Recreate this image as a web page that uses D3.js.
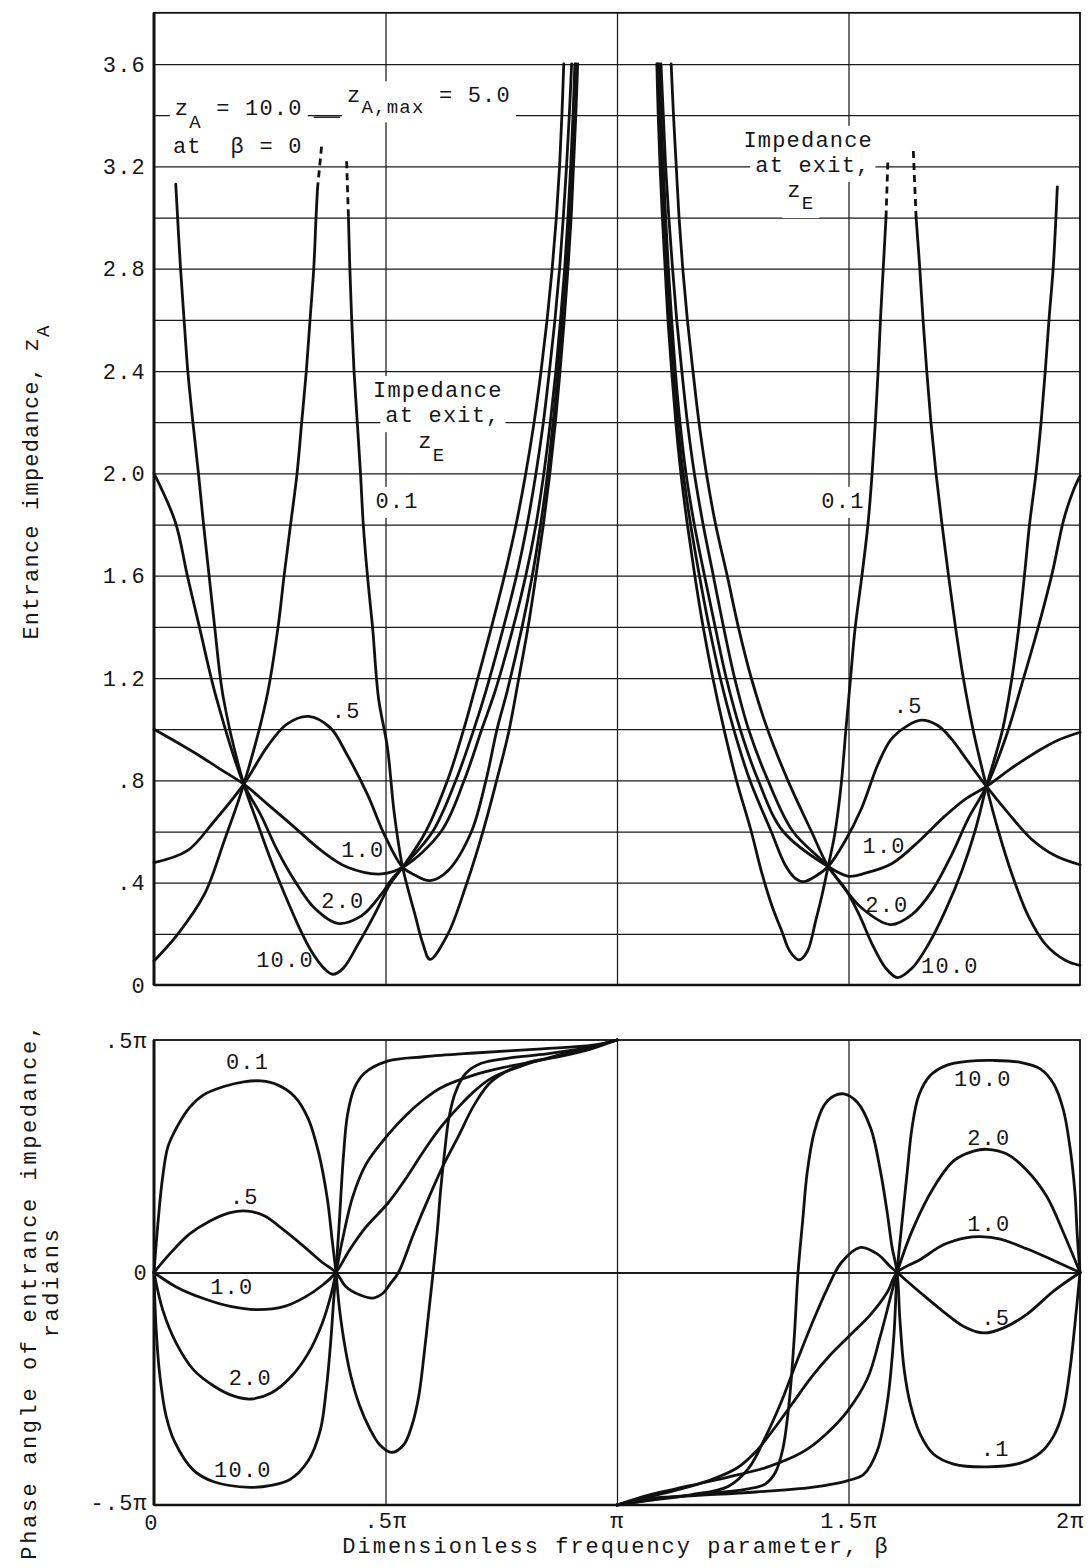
<!DOCTYPE html>
<html>
<head>
<meta charset="utf-8">
<script src="https://cdn.jsdelivr.net/npm/d3@7"></script>
<style>
  body { margin: 0; background: #fff; }
  svg text { font-family: "Liberation Mono", "DejaVu Sans Mono", monospace; font-size: 22px; fill: #161616; letter-spacing: 1.2px; white-space: pre; }
</style>
</head>
<body>
<div id="target"></div>
<script>
// beta is in units of pi, z_A in impedance units, phase in units of pi

const betaTicks = [0, 0.5, 1, 1.5, 2]
const betaLabels = ["0", ".5π", "π", "1.5π", "2π"]
const betaGrid = [0.5, 1, 1.5]
const zTicks = [0, 0.4, 0.8, 1.2, 1.6, 2.0, 2.4, 2.8, 3.2, 3.6]
const zTickLabels = ["0", ".4", ".8", "1.2", "1.6", "2.0", "2.4", "2.8", "3.2", "3.6"]
const zTop = 3.8
const phaseTicks = [-0.5, 0, 0.5]
const phaseLabels = ["-.5π", "0", ".5π"]

// entrance impedance, one array per exit impedance z_E and half period
const zA01La = [[0,0.094],[0.051,0.198],[0.109,0.355],[0.152,0.565],[0.194,0.785],[0.243,1.12],[0.268,1.40],[0.281,1.60],[0.295,1.80],[0.309,2.0],[0.319,2.2],[0.329,2.4],[0.337,2.6],[0.345,2.80],[0.350,3.0],[0.353,3.11]]
const zA01Lb = [[0.420,3.0],[0.423,2.80],[0.427,2.6],[0.432,2.40],[0.439,2.20],[0.446,2.0],[0.452,1.80],[0.461,1.60],[0.472,1.40],[0.485,1.12],[0.504,0.93],[0.519,0.67],[0.537,0.46],[0.563,0.28],[0.581,0.16],[0.596,0.10],[0.635,0.2],[0.675,0.395],[0.710,0.597],[0.738,0.785],[0.766,0.988],[0.787,1.19],[0.808,1.40],[0.825,1.60],[0.841,1.80],[0.855,2.0],[0.867,2.2],[0.877,2.4],[0.886,2.6],[0.894,2.8],[0.901,3.0],[0.906,3.2],[0.911,3.4],[0.915,3.6]]
const zA01Ra = [[1.086,3.6],[1.089,3.4],[1.093,3.2],[1.098,3.0],[1.104,2.8],[1.110,2.6],[1.118,2.4],[1.127,2.2],[1.138,2.0],[1.152,1.8],[1.168,1.6],[1.186,1.4],[1.207,1.2],[1.231,1.0],[1.258,0.8],[1.290,0.6],[1.312,0.443],[1.334,0.313],[1.356,0.21],[1.374,0.13],[1.393,0.098],[1.411,0.131],[1.429,0.25],[1.443,0.353],[1.456,0.463],[1.470,0.586],[1.484,0.78],[1.494,0.99],[1.504,1.19],[1.514,1.39],[1.529,1.6],[1.542,1.8],[1.551,2.0],[1.558,2.2],[1.564,2.4],[1.569,2.6],[1.575,2.8],[1.581,3.0]]
const zA01Rb = [[1.646,3.0],[1.654,2.8],[1.661,2.6],[1.669,2.4],[1.678,2.2],[1.689,2.0],[1.702,1.8],[1.716,1.6],[1.731,1.4],[1.748,1.2],[1.770,0.99],[1.798,0.776],[1.824,0.60],[1.853,0.433],[1.889,0.267],[1.925,0.16],[1.969,0.096],[2.0,0.077]]
const zA01Dash = [[[0.353,3.11],[0.362,3.28]], [[0.416,3.22],[0.420,3.0]], [[1.581,3.0],[1.585,3.22]], [[1.640,3.26],[1.646,3.0]]]

const zA05L = [[0,0.478],[0.072,0.525],[0.130,0.64],[0.194,0.785],[0.244,0.93],[0.287,1.02],[0.334,1.05],[0.381,1.005],[0.417,0.90],[0.461,0.745],[0.497,0.59],[0.537,0.46],[0.563,0.43],[0.596,0.408],[0.635,0.447],[0.685,0.597],[0.717,0.80],[0.741,1.0],[0.763,1.15],[0.795,1.4],[0.817,1.6],[0.835,1.8],[0.850,2.0],[0.862,2.2],[0.873,2.4],[0.882,2.6],[0.890,2.8],[0.897,3.0],[0.903,3.2],[0.908,3.4],[0.911,3.6]]
const zA05R = [[1.088,3.6],[1.092,3.4],[1.096,3.2],[1.101,3.0],[1.107,2.8],[1.114,2.6],[1.122,2.4],[1.131,2.2],[1.143,2.0],[1.159,1.8],[1.178,1.6],[1.199,1.4],[1.223,1.2],[1.252,1.0],[1.287,0.8],[1.333,0.6],[1.363,0.47],[1.385,0.417],[1.403,0.404],[1.428,0.424],[1.456,0.463],[1.492,0.561],[1.528,0.69],[1.563,0.86],[1.592,0.96],[1.627,1.013],[1.657,1.035],[1.692,1.015],[1.721,0.965],[1.758,0.874],[1.798,0.776],[1.845,0.672],[1.896,0.569],[1.947,0.505],[2.0,0.47]]

const zA10L = [[0,1.0],[0.086,0.91],[0.143,0.844],[0.194,0.785],[0.245,0.707],[0.303,0.617],[0.361,0.526],[0.418,0.46],[0.491,0.434],[0.537,0.46],[0.620,0.6],[0.670,0.8],[0.708,1.0],[0.737,1.15],[0.776,1.4],[0.803,1.6],[0.825,1.8],[0.842,2.0],[0.856,2.2],[0.868,2.4],[0.878,2.6],[0.887,2.8],[0.894,3.0],[0.900,3.2],[0.905,3.4],[0.909,3.6]]
const zA10R = [[1.091,3.6],[1.095,3.4],[1.100,3.2],[1.105,3.0],[1.111,2.8],[1.118,2.6],[1.126,2.4],[1.136,2.2],[1.149,2.0],[1.167,1.8],[1.189,1.6],[1.212,1.4],[1.236,1.2],[1.266,1.0],[1.305,0.8],[1.359,0.6],[1.456,0.463],[1.500,0.425],[1.536,0.437],[1.594,0.475],[1.651,0.56],[1.708,0.66],[1.751,0.725],[1.798,0.776],[1.850,0.845],[1.905,0.91],[1.950,0.955],[2.0,0.988]]

const zA20L = [[0,2.0],[0.046,1.81],[0.072,1.60],[0.098,1.40],[0.135,1.12],[0.194,0.785],[0.230,0.667],[0.267,0.524],[0.304,0.407],[0.347,0.30],[0.397,0.241],[0.448,0.27],[0.491,0.355],[0.512,0.41],[0.537,0.46],[0.602,0.6],[0.652,0.8],[0.691,1.0],[0.717,1.15],[0.755,1.4],[0.783,1.6],[0.806,1.8],[0.825,2.0],[0.841,2.2],[0.854,2.4],[0.866,2.6],[0.876,2.8],[0.884,3.0],[0.891,3.2],[0.897,3.4],[0.902,3.6]]
const zA20R = [[1.095,3.6],[1.100,3.4],[1.105,3.2],[1.112,3.0],[1.120,2.8],[1.129,2.6],[1.140,2.4],[1.152,2.2],[1.167,2.0],[1.186,1.8],[1.208,1.6],[1.230,1.4],[1.254,1.2],[1.284,1.0],[1.326,0.8],[1.380,0.6],[1.456,0.463],[1.486,0.39],[1.529,0.30],[1.591,0.236],[1.637,0.275],[1.680,0.367],[1.723,0.51],[1.760,0.655],[1.798,0.776],[1.842,0.98],[1.875,1.18],[1.910,1.40],[1.940,1.61],[1.965,1.82],[1.985,1.93],[2.0,1.99]]

const zA100L = [[0.047,3.13],[0.057,2.81],[0.065,2.60],[0.073,2.40],[0.084,2.20],[0.096,2.0],[0.107,1.80],[0.119,1.6],[0.131,1.40],[0.150,1.12],[0.194,0.785],[0.224,0.63],[0.253,0.486],[0.282,0.356],[0.310,0.239],[0.339,0.135],[0.368,0.064],[0.386,0.042],[0.408,0.064],[0.441,0.16],[0.477,0.278],[0.510,0.395],[0.537,0.46],[0.587,0.6],[0.634,0.8],[0.669,1.0],[0.692,1.15],[0.729,1.4],[0.757,1.6],[0.782,1.8],[0.803,2.0],[0.821,2.2],[0.836,2.4],[0.849,2.6],[0.860,2.8],[0.869,3.0],[0.876,3.2],[0.881,3.4],[0.885,3.6]]
const zA100R = [[1.117,3.6],[1.122,3.4],[1.128,3.2],[1.134,3.0],[1.142,2.8],[1.152,2.6],[1.164,2.4],[1.177,2.2],[1.193,2.0],[1.213,1.8],[1.238,1.6],[1.262,1.4],[1.290,1.2],[1.325,1.0],[1.369,0.8],[1.420,0.6],[1.456,0.463],[1.494,0.373],[1.523,0.275],[1.551,0.16],[1.580,0.067],[1.606,0.029],[1.638,0.067],[1.673,0.16],[1.709,0.29],[1.745,0.447],[1.773,0.60],[1.798,0.776],[1.833,1.0],[1.853,1.2],[1.868,1.4],[1.880,1.6],[1.891,1.8],[1.905,2.0],[1.916,2.2],[1.925,2.4],[1.933,2.6],[1.942,2.8],[1.948,3.0],[1.951,3.12]]

// phase angle of entrance impedance
const ph01L = [[0,0],[0.008,0.10],[0.018,0.2],[0.030,0.27],[0.048,0.31],[0.077,0.355],[0.107,0.382],[0.151,0.400],[0.194,0.410],[0.231,0.412],[0.268,0.403],[0.304,0.378],[0.333,0.331],[0.355,0.260],[0.374,0.161],[0.385,0.068],[0.393,0],[0.400,-0.073],[0.411,-0.151],[0.425,-0.222],[0.444,-0.286],[0.466,-0.336],[0.488,-0.371],[0.513,-0.387],[0.539,-0.371],[0.557,-0.329],[0.572,-0.265],[0.583,-0.179],[0.594,-0.080],[0.603,0.002],[0.612,0.091],[0.619,0.176],[0.628,0.262],[0.637,0.333],[0.652,0.390],[0.674,0.429],[0.707,0.450],[0.765,0.461],[0.838,0.469],[0.926,0.482],[1,0.5]]
const ph01R = [[1.0,-0.5],[1.1,-0.485],[1.2,-0.475],[1.28,-0.466],[1.32,-0.455],[1.342,-0.43],[1.358,-0.38],[1.372,-0.278],[1.383,-0.137],[1.391,0],[1.401,0.111],[1.411,0.217],[1.426,0.302],[1.447,0.359],[1.469,0.380],[1.490,0.384],[1.519,0.366],[1.548,0.310],[1.569,0.218],[1.584,0.126],[1.594,0.055],[1.605,0],[1.611,-0.101],[1.620,-0.207],[1.634,-0.285],[1.655,-0.348],[1.684,-0.391],[1.727,-0.412],[1.799,-0.418],[1.871,-0.410],[1.914,-0.388],[1.943,-0.352],[1.964,-0.296],[1.978,-0.211],[1.989,-0.112],[2.0,0]]
const ph05L = [[0,0],[0.034,0.040],[0.077,0.083],[0.121,0.111],[0.165,0.129],[0.202,0.132],[0.238,0.122],[0.282,0.090],[0.326,0.054],[0.363,0.022],[0.393,0],[0.414,-0.030],[0.444,-0.048],[0.473,-0.055],[0.495,-0.044],[0.509,-0.026],[0.528,0],[0.561,0.084],[0.597,0.169],[0.626,0.233],[0.656,0.290],[0.692,0.361],[0.729,0.411],[0.802,0.450],[0.875,0.464],[0.948,0.482],[1,0.5]]
const ph05R = [[1.0,-0.5],[1.07,-0.49],[1.16,-0.478],[1.24,-0.46],[1.285,-0.42],[1.32,-0.355],[1.354,-0.28],[1.385,-0.2],[1.419,-0.115],[1.454,-0.035],[1.485,0.022],[1.526,0.054],[1.562,0.040],[1.591,0.012],[1.605,0],[1.655,-0.043],[1.706,-0.085],[1.749,-0.116],[1.792,-0.130],[1.835,-0.119],[1.885,-0.090],[1.943,-0.040],[2.0,0]]
const ph10L = [[0,0],[0.048,-0.031],[0.107,-0.056],[0.165,-0.073],[0.224,-0.080],[0.282,-0.073],[0.326,-0.053],[0.363,-0.028],[0.393,0],[0.422,0.048],[0.458,0.098],[0.506,0.150],[0.546,0.205],[0.583,0.262],[0.619,0.312],[0.656,0.354],[0.692,0.390],[0.729,0.418],[0.802,0.447],[0.875,0.468],[0.948,0.486],[1,0.5]]
const ph10R = [[1.0,-0.5],[1.05,-0.487],[1.12,-0.47],[1.2,-0.447],[1.26,-0.42],[1.30,-0.385],[1.34,-0.335],[1.38,-0.28],[1.42,-0.225],[1.46,-0.178],[1.50,-0.138],[1.548,-0.09],[1.584,-0.042],[1.605,0],[1.655,0.028],[1.706,0.060],[1.756,0.075],[1.785,0.077],[1.828,0.072],[1.885,0.051],[1.943,0.026],[2.0,0]]
const ph20L = [[0,0],[0.019,-0.081],[0.048,-0.152],[0.085,-0.209],[0.129,-0.244],[0.173,-0.266],[0.209,-0.272],[0.253,-0.259],[0.297,-0.223],[0.333,-0.174],[0.363,-0.110],[0.381,-0.053],[0.393,0],[0.407,0.070],[0.429,0.162],[0.458,0.233],[0.506,0.297],[0.546,0.340],[0.583,0.372],[0.619,0.397],[0.692,0.425],[0.765,0.443],[0.838,0.457],[0.926,0.479],[1,0.5]]
const ph20R = [[1.0,-0.5],[1.07,-0.478],[1.16,-0.458],[1.24,-0.44],[1.32,-0.42],[1.38,-0.397],[1.411,-0.38],[1.454,-0.345],[1.497,-0.299],[1.541,-0.228],[1.569,-0.136],[1.591,-0.052],[1.605,0],[1.641,0.098],[1.684,0.183],[1.727,0.240],[1.770,0.261],[1.799,0.265],[1.842,0.255],[1.885,0.220],[1.928,0.164],[1.964,0.086],[2.0,0]]
const ph100L = [[0,0],[0.004,-0.110],[0.012,-0.216],[0.026,-0.308],[0.045,-0.365],[0.085,-0.425],[0.129,-0.450],[0.207,-0.462],[0.253,-0.458],[0.294,-0.445],[0.333,-0.405],[0.359,-0.340],[0.372,-0.252],[0.382,-0.145],[0.388,-0.060],[0.393,0],[0.400,0.105],[0.409,0.248],[0.418,0.340],[0.433,0.397],[0.455,0.429],[0.506,0.455],[0.583,0.464],[0.692,0.472],[0.838,0.481],[0.948,0.489],[1,0.5]]
const ph100R = [[1.0,-0.5],[1.05,-0.488],[1.15,-0.481],[1.3,-0.472],[1.42,-0.462],[1.497,-0.448],[1.533,-0.434],[1.562,-0.384],[1.584,-0.278],[1.598,-0.136],[1.605,0],[1.616,0.112],[1.627,0.218],[1.637,0.310],[1.652,0.381],[1.677,0.424],[1.713,0.446],[1.756,0.454],[1.813,0.456],[1.871,0.452],[1.914,0.438],[1.943,0.406],[1.964,0.350],[1.978,0.272],[1.989,0.173],[1.994,0.081],[2.0,0]]

// curve labels (z_E values) placed in data units
const zCurveLabels = [
  {t: "0.1", b: 0.525, v: 1.865}, {t: ".5", b: 0.415, v: 1.043}, {t: "1.0", b: 0.451, v: 0.50},
  {t: "2.0", b: 0.408, v: 0.30}, {t: "10.0", b: 0.283, v: 0.07},
  {t: "0.1", b: 1.488, v: 1.865}, {t: ".5", b: 1.629, v: 1.062}, {t: "1.0", b: 1.577, v: 0.515},
  {t: "2.0", b: 1.583, v: 0.285}, {t: "10.0", b: 1.719, v: 0.047}
]
const phCurveLabels = [
  {t: "0.1", b: 0.202, p: 0.438}, {t: ".5", b: 0.195, p: 0.147}, {t: "1.0", b: 0.168, p: -0.046},
  {t: "2.0", b: 0.208, p: -0.241}, {t: "10.0", b: 0.192, p: -0.440},
  {t: "10.0", b: 1.790, p: 0.401}, {t: "2.0", b: 1.803, p: 0.274}, {t: "1.0", b: 1.803, p: 0.090},
  {t: ".5", b: 1.818, p: -0.112}, {t: ".1", b: 1.817, p: -0.395}
]

let impedanceChart = () => {
  let ob = {}

  ob.make = () => {
    ob.svg = d3.select("#target").append("svg").attr("width", 1090).attr("height", 1568)
    ob.x = d3.scaleLinear().domain([0, 2]).range([154, 1080])
    ob.yz = d3.scaleLinear().domain([0, 3.6]).range([985, 64])
    ob.yp = d3.scaleLinear().domain([-0.5, 0.5]).range([1505, 1040])
    ob.grid = ob.svg.append("g")
    ob.boxes = ob.svg.append("g")
    ob.curves = ob.svg.append("g")
    ob.frames = ob.svg.append("g")
    ob.texts = ob.svg.append("g")
    ob.drawGrid()
    ob.drawCurves()
    ob.drawFrames()
    ob.drawAxes()
    ob.drawLabels()
  }

  ob.drawGrid = () => {
    let w = ob.x(2) - ob.x(0)
    ob.grid.append("g").attr("transform", `translate(${ob.x(0)},0)`)
      .call(d3.axisLeft(ob.yz).tickValues(d3.range(0.2, 3.65, 0.2)).tickSize(-w).tickFormat(""))
    ob.grid.append("g").attr("transform", `translate(0,${ob.yz(0)})`)
      .call(d3.axisBottom(ob.x).tickValues(betaGrid).tickSize(-(ob.yz(0) - ob.yz(zTop))).tickFormat(""))
    ob.grid.append("g").attr("transform", `translate(0,${ob.yp(-0.5)})`)
      .call(d3.axisBottom(ob.x).tickValues(betaGrid).tickSize(-(ob.yp(-0.5) - ob.yp(0.5))).tickFormat(""))
    let zero = ob.grid.append("g").attr("transform", `translate(${ob.x(0)},0)`)
      .call(d3.axisLeft(ob.yp).tickValues([0]).tickSize(-w).tickFormat(""))
    ob.grid.selectAll(".domain").remove()
    ob.grid.selectAll(".tick line").attr("stroke", "#1a1a1a").attr("stroke-width", 1.25)
    zero.selectAll(".tick line").attr("stroke-width", 2.2)
  }

  ob.drawCurves = () => {
    let lz = d3.line().x(d => ob.x(d[0])).y(d => ob.yz(d[1])).curve(d3.curveCatmullRom.alpha(0.5))
    let lp = d3.line().x(d => ob.x(d[0])).y(d => ob.yp(d[1])).curve(d3.curveCatmullRom.alpha(0.5))
    let zSeries = [zA01La, zA01Lb, zA01Ra, zA01Rb, zA05L, zA05R, zA10L, zA10R, zA20L, zA20R, zA100L, zA100R]
    let pSeries = [ph01L, ph01R, ph05L, ph05R, ph10L, ph10R, ph20L, ph20R, ph100L, ph100R]
    let g = ob.curves.attr("fill", "none").attr("stroke", "#111").attr("stroke-width", 2.8)
      .attr("stroke-linejoin", "round").attr("stroke-linecap", "round")
    g.selectAll("path.z").data(zSeries).join("path").attr("class", "z").attr("d", lz)
    g.selectAll("path.zd").data(zA01Dash).join("path").attr("class", "zd").attr("d", lz)
      .attr("stroke-dasharray", "7,5").attr("stroke-linecap", "butt")
    g.selectAll("path.p").data(pSeries).join("path").attr("class", "p").attr("d", lp)
  }

  ob.drawFrames = () => {
    let f = ob.frames.attr("fill", "none").attr("stroke", "#111")
    let x0 = ob.x(0), x1 = ob.x(2)
    f.append("rect").attr("x", x0).attr("y", ob.yz(zTop)).attr("width", x1 - x0)
      .attr("height", ob.yz(0) - ob.yz(zTop)).attr("stroke-width", 1.8)
    f.append("rect").attr("x", x0).attr("y", ob.yp(0.5)).attr("width", x1 - x0)
      .attr("height", ob.yp(-0.5) - ob.yp(0.5)).attr("stroke-width", 1.8)
    // the scanned axes are heavier on the left and bottom
    f.append("line").attr("x1", x0).attr("x2", x0).attr("y1", ob.yz(zTop)).attr("y2", ob.yz(0)).attr("stroke-width", 3)
    f.append("line").attr("x1", x0).attr("x2", x1).attr("y1", ob.yz(0)).attr("y2", ob.yz(0)).attr("stroke-width", 2.6)
    f.append("line").attr("x1", x0).attr("x2", x0).attr("y1", ob.yp(0.5)).attr("y2", ob.yp(-0.5)).attr("stroke-width", 3)
    f.append("line").attr("x1", x0).attr("x2", x1).attr("y1", ob.yp(-0.5)).attr("y2", ob.yp(-0.5)).attr("stroke-width", 2.4)
  }

  ob.drawAxes = () => {
    ob.texts.append("g").attr("transform", `translate(${ob.x(0)},0)`)
      .call(d3.axisLeft(ob.yz).tickValues(zTicks).tickFormat((d, i) => zTickLabels[i]).tickSize(0).tickPadding(8))
    let ap = ob.texts.append("g").attr("transform", `translate(${ob.x(0)},0)`)
      .call(d3.axisLeft(ob.yp).tickValues(phaseTicks).tickFormat((d, i) => phaseLabels[i]).tickSize(0).tickPadding(6))
    let ab = ob.texts.append("g").attr("transform", `translate(0,${ob.yp(-0.5)})`)
      .call(d3.axisBottom(ob.x).tickValues(betaTicks).tickFormat((d, i) => betaLabels[i]).tickSize(0).tickPadding(7))
    ob.texts.selectAll(".domain").remove()
    ab.selectAll("text").filter(d => d === 0).attr("dx", -3).attr("dy", "0.8em")
    ab.selectAll("text").filter(d => d === 2).attr("dx", -10)
    ap.selectAll("text").filter(d => d === -0.5).attr("dy", "0.2em")

    ob.rich(ob.texts.append("text").attr("text-anchor", "middle").attr("transform", "translate(38,482) rotate(-90)"),
      [{s: "Entrance impedance, z"}, {s: "A", sub: 1}])
    ob.texts.append("text").attr("text-anchor", "middle").attr("transform", "translate(36,1291) rotate(-90)")
      .style("letter-spacing", "2.6px").text("Phase angle of entrance impedance,")
    ob.texts.append("text").attr("text-anchor", "middle").attr("transform", "translate(58,1282) rotate(-90)")
      .style("letter-spacing", "2.6px").text("radians")
    ob.texts.append("text").attr("text-anchor", "middle").attr("x", 616).attr("y", 1553)
      .style("letter-spacing", "2px").text("Dimensionless frequency parameter, β")
  }

  ob.rich = (t, parts, drop) => {
    let low = 0
    parts.forEach(p => {
      let s = p.sub ? (drop || 11) : 0
      t.append("tspan").attr("dy", s - low).attr("font-size", p.sub ? 19 : null).text(p.s)
      low = s
    })
    return t
  }

  ob.note = (parts, b, v, anchor, drop) => {
    let t = ob.rich(ob.texts.append("text").attr("x", ob.x(b)).attr("y", ob.yz(v)).attr("text-anchor", anchor), parts, drop)
    let bb = t.node().getBBox()
    ob.boxes.append("rect").attr("x", bb.x - 5).attr("y", bb.y - 3)
      .attr("width", bb.width + 10).attr("height", bb.height + 6).attr("fill", "#fff")
    return t
  }

  ob.drawLabels = () => {
    ob.note([{s: "z"}, {s: "A", sub: 1}, {s: " = 10.0"}], 0.045, 3.40, "start", 13)
    ob.note([{s: "z"}, {s: "A,max", sub: 1}, {s: " = 5.0"}], 0.417, 3.45, "start", 11)
    ob.note([{s: "at  β = 0"}], 0.041, 3.252, "start")
    ob.texts.append("line").attr("x1", ob.x(0.345)).attr("x2", ob.x(0.402))
      .attr("y1", ob.yz(3.392)).attr("y2", ob.yz(3.392)).attr("stroke", "#111").attr("stroke-width", 1.4)

    ob.note([{s: "Impedance"}], 0.613, 2.298, "middle")
    ob.note([{s: "at exit,"}], 0.624, 2.20, "middle")
    ob.note([{s: "z"}, {s: "E", sub: 1}], 0.600, 2.099, "middle", 13)
    ob.note([{s: "Impedance"}], 1.413, 3.276, "middle")
    ob.note([{s: "at exit,"}], 1.423, 3.178, "middle")
    ob.note([{s: "z"}, {s: "E", sub: 1}], 1.397, 3.08, "middle", 12)

    zCurveLabels.forEach(d => {
      if (d.t === "0.1") ob.note([{s: d.t}], d.b, d.v, "middle")
      else ob.texts.append("text").attr("x", ob.x(d.b)).attr("y", ob.yz(d.v)).attr("text-anchor", "middle").text(d.t)
    })
    ob.texts.selectAll("text.pl").data(phCurveLabels).join("text").attr("class", "pl")
      .attr("x", d => ob.x(d.b)).attr("y", d => ob.yp(d.p)).attr("text-anchor", "middle").text(d => d.t)
  }

  return ob
}

impedanceChart().make()
</script>
</body>
</html>
